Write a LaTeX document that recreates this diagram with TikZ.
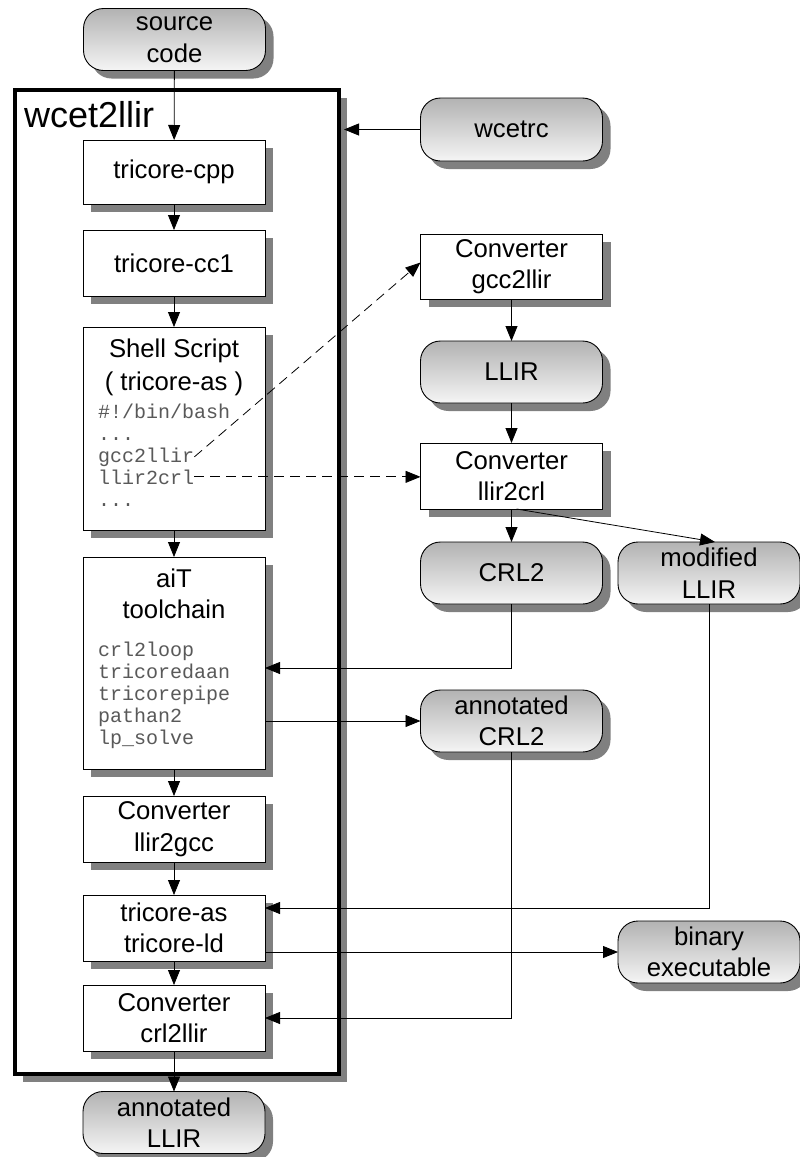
\documentclass[tikz,border=0pt]{standalone}
\usepackage{fontspec}
\setmainfont{Liberation Sans}
\newfontfamily\monof{Liberation Mono}
\usetikzlibrary{shadows,arrows.meta,calc}
\newcommand\mainf{\fontsize{25.7}{31.5}\selectfont}
\newcommand\bigf{\fontsize{36}{40}\selectfont}
\newcommand\codef{\monof\fontsize{20}{22}\selectfont}
\begin{document}
\begin{tikzpicture}[x=1pt,y=-1pt,
  >={Triangle[length=15pt,width=12pt]},
  conn/.style={->, line width=0.8pt},
  dconn/.style={conn, dash pattern=on 10pt off 6pt},
  shad/.style={drop shadow={shadow xshift=8pt,shadow yshift=-8pt,fill=black!50,opacity=1}},
  procbox/.style={draw, line width=0.9pt, fill=white, shad, minimum width=182pt, minimum height=65pt, outer sep=0pt, align=center, font=\mainf, inner sep=0pt},
  databox/.style={draw, line width=0.9pt, rounded corners=20pt, top color=black!30, bottom color=black!4, shad, minimum width=182pt, minimum height=62pt, outer sep=0pt, align=center, font=\mainf, inner sep=0pt},
  txt/.style={anchor=base, font=\mainf, inner sep=0pt},
  code/.style={anchor=base west, font=\codef, text=black!65, inner sep=0pt},
]
\useasboundingbox (0,0) rectangle (800,1157);

% big container
\node[procbox, minimum width=324pt, minimum height=984pt, line width=4pt] (w2l) at (177,582) {};
\node[anchor=base west, font=\bigf, inner sep=0pt] (w2lT) at (24,127) {wcet2llir};

% left column
\node[databox] (src) at (174.5,39.5) {source\\code};
\node[procbox, minimum height=64pt] (cpp) at (174,172) {tricore-cpp};
\node[procbox, minimum height=66pt] (cc1) at (174,263) {tricore-cc1};
\node[procbox, minimum height=203pt] (shell) at (174,428.5) {};
\node[txt] (shT1) at (174,357) {Shell Script};
\node[txt] (shT2) at (174,390) {( tricore-as )};
\node[code] (sc1) at (98,418) {\#!/bin/bash};
\node[code] (sc2) at (98,440) {...};
\node[code] (tg) at (98,462) {gcc2llir};
\node[code] (tl) at (98,484) {llir2crl};
\node[code] (sc5) at (98,506) {...};

\node[procbox, minimum height=212pt] (ait) at (174,663) {};
\node[txt] (aT1) at (174,587) {aiT};
\node[txt] (aT2) at (174,618) {toolchain};
\node[code] (ac1) at (98,656) {crl2loop};
\node[code] (ac2) at (98,678) {tricoredaan};
\node[code] (ac3) at (98,700) {tricorepipe};
\node[code] (ac4) at (98,722) {pathan2};
\node[code] (ac5) at (98,744) {lp\_solve};

\node[procbox, minimum height=66pt] (l2g) at (174,829) {Converter\\llir2gcc};
\node[procbox, minimum height=66pt] (as) at (174,928) {tricore-as\\tricore-ld};
\node[procbox, minimum height=66pt] (c2l) at (174,1018) {Converter\\crl2llir};
\node[databox] (annL) at (174,1122.5) {annotated\\LLIR};

% right column
\node[databox, minimum height=63pt] (wcetrc) at (511.5,129.5) {wcetrc};
\node[procbox] (g2l) at (511.5,266.5) {Converter\\gcc2llir};
\node[databox] (llir) at (511.5,372) {LLIR};
\node[procbox, minimum height=66pt] (l2c) at (511.5,476) {Converter\\llir2crl};
\node[databox] (crl) at (511.5,573) {CRL2};
\node[databox] (mod) at (709,573) {modified\\LLIR};
\node[databox] (annC) at (511.5,721) {annotated\\CRL2};
\node[databox] (bin) at (709,952) {binary\\executable};

% connectors
\draw[conn] (src) -- (cpp);
\draw[conn] (cpp) -- (cc1);
\draw[conn] (cc1) -- (shell);
\draw[conn] (shell) -- (ait);
\draw[conn] (ait) -- (l2g);
\draw[conn] (l2g) -- (as);
\draw[conn] (as) -- (c2l);
\draw[conn] (c2l) -- (annL);

\draw[conn] (wcetrc.west) -- ([xshift=5pt]wcetrc.west -| w2l.east);
\draw[dconn] (tg.east) -- ([yshift=4pt]g2l.west);
\draw[dconn] (tl.east) -- (tl.east -| l2c.west);

\draw[conn] (g2l) -- (llir);
\draw[conn] (llir) -- (l2c);
\draw[conn] (l2c) -- (crl);
\draw[conn] ([xshift=5pt]l2c.south) -- ([xshift=6pt]mod.north);

\draw[conn] (crl.south) |- ([yshift=-5pt]ait.east);
\draw[conn] (ait.east |- annC.west) -- (annC.west);
\draw[conn] (mod.south) |- ([yshift=20pt]as.east);
\draw[conn] (as.east |- bin.west) -- (bin.west);
\draw[conn] (annC.south) |- (c2l.east);
\end{tikzpicture}
\end{document}
